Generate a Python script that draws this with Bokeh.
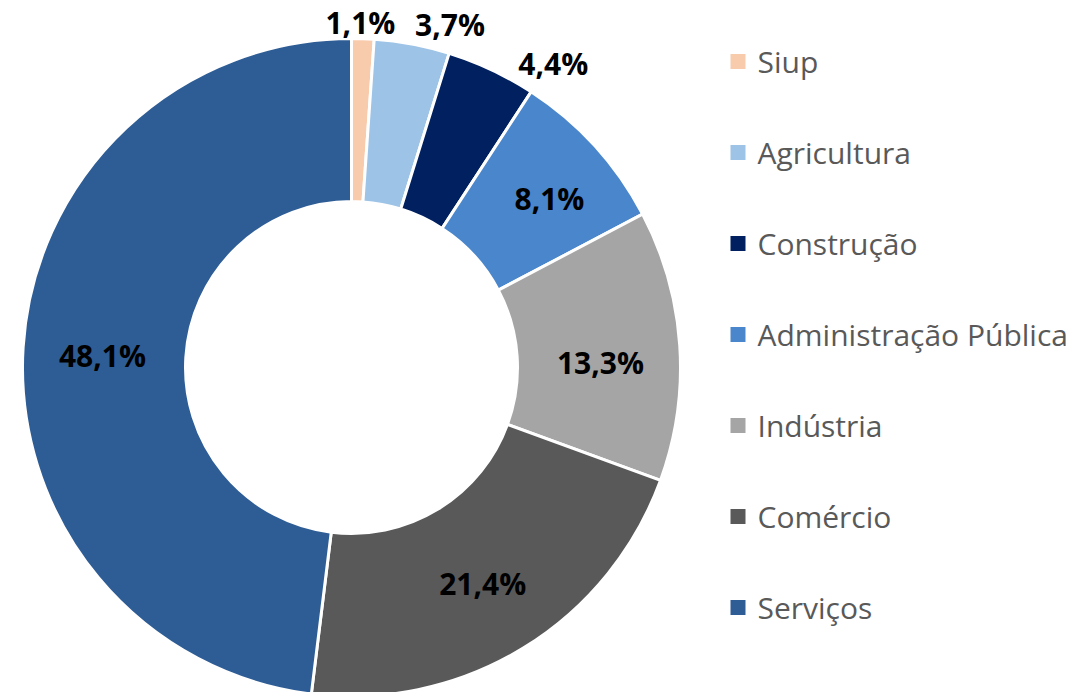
import math
from bokeh.plotting import figure
from bokeh.models import Range1d, ColumnDataSource
from bokeh.core.properties import value
from bokeh.embed import file_html
from bokeh.resources import INLINE

# ---- data ----
categories = ["Siup", "Agricultura", "Construção", "Administração Pública",
              "Indústria", "Comércio", "Serviços"]
shares = [1.1, 3.7, 4.4, 8.1, 13.3, 21.4, 48.1]
colors = ["#F8CBAD", "#9DC3E6", "#002060", "#4A86CB", "#A5A5A5", "#595959", "#2E5D96"]

# ---- layout (picture pixels -> data units, 1 unit = 1 px) ----
W, H = 1092, 692
def dx(px):
    return px
def dy(py):
    return H - py

CX, CY = dx(351), dy(367)
R_OUT, R_IN = 329, 166
R_MID = (R_OUT + R_IN) / 2
R_OUTSIDE = 345
outside = [True, True, True, False, False, False, False]
# label nudges in picture pixels (right, down)
nudge = [(-3, 0), (35, -4), (55, 8), (15, -2), (2, 12), (2, 5), (-2, 3)]

total = sum(shares)
starts, ends, lx, ly, labels = [], [], [], [], []
cum = 0.0
for i, s in enumerate(shares):
    a0 = math.pi / 2 - 2 * math.pi * cum / total
    a1 = math.pi / 2 - 2 * math.pi * (cum + s) / total
    starts.append(a0)
    ends.append(a1)
    mid = (a0 + a1) / 2
    r = R_OUTSIDE if outside[i] else R_MID
    lx.append(CX + r * math.cos(mid) + nudge[i][0])
    ly.append(CY + r * math.sin(mid) - nudge[i][1])
    labels.append(f"{s:.1f}".replace(".", ",") + "%")
    cum += s

src = ColumnDataSource(dict(cat=categories, start=starts, end=ends, color=colors,
                            lx=lx, ly=ly, label=labels))

p = figure(width=W, height=H, x_range=Range1d(0, W), y_range=Range1d(0, H),
           output_backend="svg", toolbar_location=None, min_border=0,
           x_axis_type=None, y_axis_type=None, outline_line_color=None,
           background_fill_color="white", border_fill_color="white")
p.grid.visible = False

p.annular_wedge(x=CX, y=CY, inner_radius=R_IN, outer_radius=R_OUT,
                start_angle="start", end_angle="end", direction="clock",
                fill_color="color", line_color="white", line_width=3, source=src)

p.text(x="lx", y="ly", text="label", source=src, text_align="center",
       text_baseline="middle", text_font=value("Open Sans"),
       text_font_size="30px", text_font_style="bold", text_color="black")

# ---- legend (drawn) ----
leg_x = [dx(737.5)] * len(categories)
leg_y = [dy(61 + 91 * i) for i in range(len(categories))]
lsrc = ColumnDataSource(dict(x=leg_x, y=leg_y, tx=[dx(757)] * len(categories),
                             cat=categories, color=colors))
p.scatter(x="x", y="y", marker="square", size=15, fill_color="color",
          line_color=None, source=lsrc)
p.text(x="tx", y="y", text="cat", source=lsrc, text_align="left",
       text_baseline="middle", text_font=value("Open Sans"),
       text_font_size="30px", text_color="#595959")

open("out.html", "w").write(file_html(p, INLINE))
